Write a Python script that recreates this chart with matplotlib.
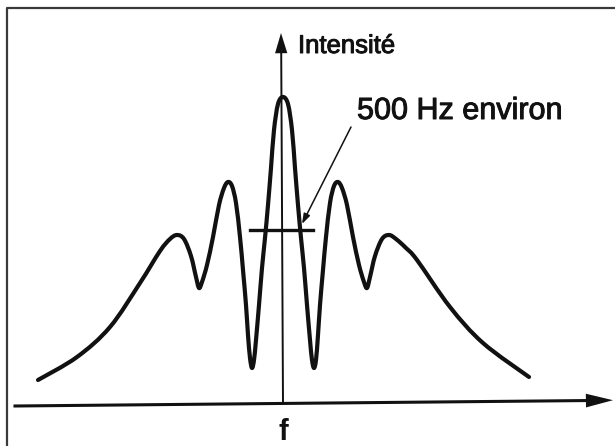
import numpy as np
import matplotlib
matplotlib.use("Agg")
import matplotlib.pyplot as plt
from matplotlib.path import Path
from matplotlib.patches import PathPatch, FancyArrowPatch
import matplotlib.patheffects as pe

# Curve (pixel positions): x along f, y down from top
x_px = [38, 77, 110, 140, 160, 170, 177, 184, 191, 196, 199, 202, 207, 213, 219, 224, 228, 232,
        236, 240, 243, 246, 248, 250, 252, 254, 256, 259, 262, 265, 268, 271, 274, 278, 283,
        288, 292, 295, 298, 301, 304, 307, 310, 312, 314, 316, 318, 320, 323, 326, 330, 334, 338,
        342, 347, 353, 359, 364, 367, 370, 375, 382, 389, 396, 406, 417, 450, 483, 529]
y_px = [380, 357, 327, 283, 251, 239, 235, 239, 256, 277, 288, 282, 265, 237, 205, 188, 182, 186,
        203, 237, 270, 305, 335, 358, 368, 360, 340, 305, 268, 238, 205, 168, 130, 104, 97,
        104, 130, 168, 205, 238, 268, 305, 340, 360, 368, 360, 335, 305, 270, 237, 203, 186, 182,
        188, 205, 237, 265, 282, 288, 277, 256, 239, 235, 239, 248, 260, 307, 343, 377]

x_axis_y = 403
y_axis_x = 283
freq = [x - y_axis_x for x in x_px]
intensity = [x_axis_y - y for y in y_px]

label_y = "Intensité"
label_x = "f"
annot = "500 Hz environ"

fig = plt.figure(figsize=(6.15, 4.46), dpi=100)
ax = fig.add_axes([0, 0, 1, 1])
ax.set_xlim(-y_axis_x, 615 - y_axis_x)
ax.set_ylim(x_axis_y - 446, x_axis_y)
ax.axis("off")

def px(x, y):
    return (x - y_axis_x, x_axis_y - y)

ink = "#111111"

# Frame of the scanned figure
ax.plot(*zip(px(7, 446), px(7, 8), px(615, 8)), color="#3a3a3a", lw=1.6, solid_capstyle="butt")

# Curve as smooth Catmull-Rom Bezier path
P = np.column_stack([freq, intensity]).astype(float)
verts = [P[0]]
codes = [Path.MOVETO]
n = len(P)
for i in range(n - 1):
    p0 = P[i - 1] if i > 0 else P[i]
    p1 = P[i]
    p2 = P[i + 1]
    p3 = P[i + 2] if i + 2 < n else P[i + 1]
    c1 = p1 + (p2 - p0) / 6.0
    c2 = p2 - (p3 - p1) / 6.0
    verts += [c1, c2, p2]
    codes += [Path.CURVE4] * 3
ax.add_patch(PathPatch(Path(verts, codes), fill=False, lw=3.0, color=ink,
                       capstyle="round", joinstyle="round"))

# x axis with arrow
ax.plot(*zip(px(15, 406), px(592, 400.5)), color=ink, lw=2.2)
ax.add_patch(FancyArrowPatch(px(584, 400.6), px(613, 400.2), arrowstyle="-|>,head_length=7.5,head_width=1.9",
                             mutation_scale=2.6, color=ink, lw=0, shrinkA=0, shrinkB=0))
# y axis with arrow
ax.plot(*zip(px(283, 404), px(281.2, 50)), color=ink, lw=1.4)
ax.add_patch(FancyArrowPatch(px(281.2, 54), px(281, 33), arrowstyle="-|>,head_length=5.6,head_width=1.7",
                             mutation_scale=2.6, color=ink, lw=0, shrinkA=0, shrinkB=0))

# width bar
ax.plot(*zip(px(250, 229.5), px(313, 229.5)), color=ink, lw=2.4)
# pointer
ax.annotate("", xy=px(302, 224), xytext=px(351, 127),
            arrowprops=dict(arrowstyle="-|>,head_length=0.6,head_width=0.2", color=ink, lw=1.1,
                            shrinkA=0, shrinkB=0))

thick = [pe.withStroke(linewidth=0.7, foreground=ink)]
ax.text(*px(298, 46), label_y, family="Liberation Sans", fontsize=18.5, ha="left", va="center",
        color=ink, path_effects=thick)
ax.text(*px(357, 111), annot, family="Liberation Sans", fontsize=22, ha="left", va="center",
        color=ink, path_effects=thick)
ax.text(*px(283, 432), label_x, family="Liberation Sans", fontsize=21, fontweight="bold",
        ha="center", va="center", color=ink)

fig.savefig("out.png", dpi=100)
